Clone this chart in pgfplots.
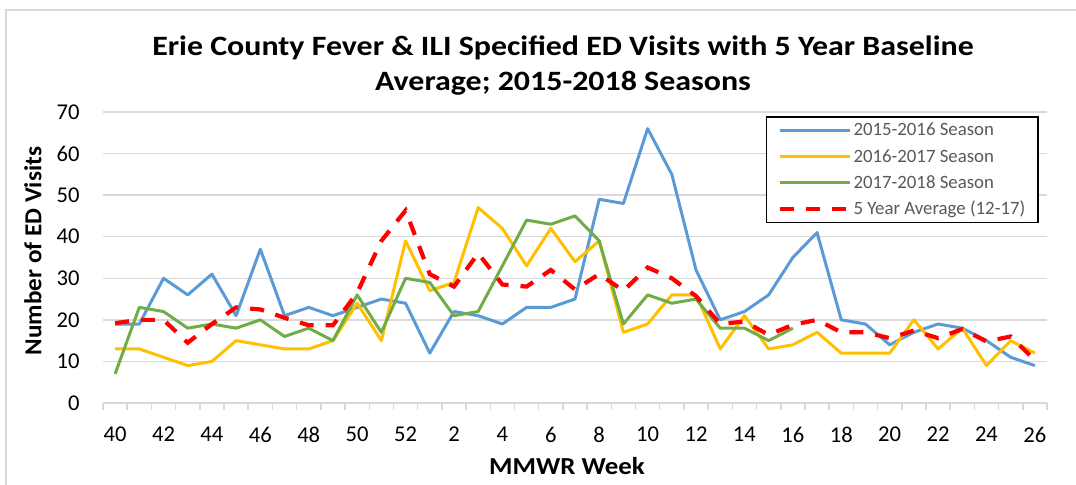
\documentclass[border=0pt]{standalone}
\usepackage{pgfplots}
\pgfplotsset{compat=1.18}
\usepackage{pgfplotstable}
\usepackage{fontspec}
\setmainfont{Carlito}
\newfontfamily\titlefont[FakeStretch=1.14]{Carlito}
\newfontfamily\xlabfont[FakeStretch=1.10]{Carlito}
\newfontfamily\ylabfont[FakeStretch=1.03]{Carlito}
\definecolor{cblue}{HTML}{5B9BD5}
\definecolor{cyellow}{HTML}{FFC000}
\definecolor{cgreen}{HTML}{70AD47}
\definecolor{cred}{HTML}{FF0000}
\definecolor{cgrid}{HTML}{D9D9D9}
\definecolor{ctext}{HTML}{595959}
\pgfplotstableread{
i blue yellow green red
0 19 13 7 19.2
1 19 13 23 20
2 30 11 22 20
3 26 9 18 14.5
4 31 10 19 19
5 21 15 18 23
6 37 14 20 22.5
7 21 13 16 20.5
8 23 13 18 18.7
9 21 15 15 18.7
10 23 24 26 26.5
11 25 15 17 39
12 24 39 30 46.3
13 12 27 29 31
14 22 29 21 28
15 21 47 22 36
16 19 42 33 28.5
17 23 33 44 28
18 23 42 43 32
19 25 34 45 27.3
20 49 39 39 31
21 48 17 19 27
22 66 19 26 32.6
23 55 26 24 30
24 32 26 25 25.7
25 20 13 18 19
26 22 21 18 19.6
27 26 13 15 16.4
28 35 14 18 18.8
29 41 17 nan 20
30 20 12 nan 17
31 19 12 nan 17
32 14 12 nan 15.6
33 17 20 nan 17.4
34 19 13 nan 15.6
35 18 18 nan 17.8
36 15 9 nan 14.8
37 11 15 nan 16
38 9 12 nan 10.3
}\datatable
\begin{document}
\begin{tikzpicture}[x=0.5pt,y=-0.5pt]
\useasboundingbox (0,0) rectangle (1076,485);
\draw[color=cgrid, line width=0.75pt] (6,485) -- (6,10) -- (1076,10);
\node[font=\titlefont\bfseries\fontsize{14}{17.5}\selectfont, align=center] at (563,66) {Erie County Fever \& ILI Specified ED Visits with 5 Year Baseline\\Average; 2015-2018 Seasons};
\node[font=\ylabfont\bfseries\fontsize{12.2}{14}\selectfont, rotate=90] at (33,251) {Number of ED Visits};
\node[font=\xlabfont\bfseries\fontsize{12.2}{14}\selectfont] at (567,466) {MMWR Week};
\begin{axis}[
  at={(51.5pt,-201.5pt)}, anchor=south west,
  scale only axis, width=472pt, height=145.5pt,
  xmin=-0.5, xmax=38.5, ymin=0, ymax=70,
  clip=false,
  axis lines*=left,
  axis line style={-},
  x axis line style={draw=cgrid, line width=0.75pt},
  y axis line style={draw=none},
  xtick={0,2,...,38},
  xticklabels={40,42,44,46,48,50,52,2,4,6,8,10,12,14,16,18,20,22,24,26},
  minor xtick={-0.5,0.5,...,38.5},
  major tick length=0pt,
  minor tick length=3.5pt,
  tick align=outside,
  minor tick style={draw=cgrid, line width=0.75pt},
  ytick={0,10,...,70},
  ymajorgrids,
  major grid style={draw=cgrid, line width=0.75pt},
  tick label style={font=\fontsize{11.3}{13}\selectfont},
  xticklabel style={anchor=north, inner sep=0pt, yshift=-11.85pt},
  yticklabel style={anchor=east, inner sep=0pt, xshift=-11.5pt},
  /pgf/number format/assume math mode=true,
  legend cell align=left,
  legend image code/.code={\draw[#1] (0pt,0pt) -- (35pt,0pt);},
  legend style={at={(0.9915,0.986)}, anchor=north east, draw=black, line width=0.75pt,
    font=\fontsize{9.4}{11}\selectfont, text=ctext,
    inner xsep=6pt, inner ysep=2pt, row sep=3.5pt,
    nodes={inner sep=0.5pt, text height=7pt, text depth=1.6pt, anchor=west}},
]
\addplot[cblue, line width=1.5pt, line join=round] table[x=i, y=blue] {\datatable};
\addlegendentry{2015-2016 Season}
\addplot[cyellow, line width=1.5pt, line join=round] table[x=i, y=yellow] {\datatable};
\addlegendentry{2016-2017 Season}
\addplot[cgreen, line width=1.5pt, line join=round] table[x=i, y=green] {\datatable};
\addlegendentry{2017-2018 Season}
\addplot[cred, line width=2.1pt, dash pattern=on 7pt off 6pt] table[x=i, y=red] {\datatable};
\addlegendentry{5 Year Average (12-17)}
\end{axis}
\end{tikzpicture}
\end{document}
